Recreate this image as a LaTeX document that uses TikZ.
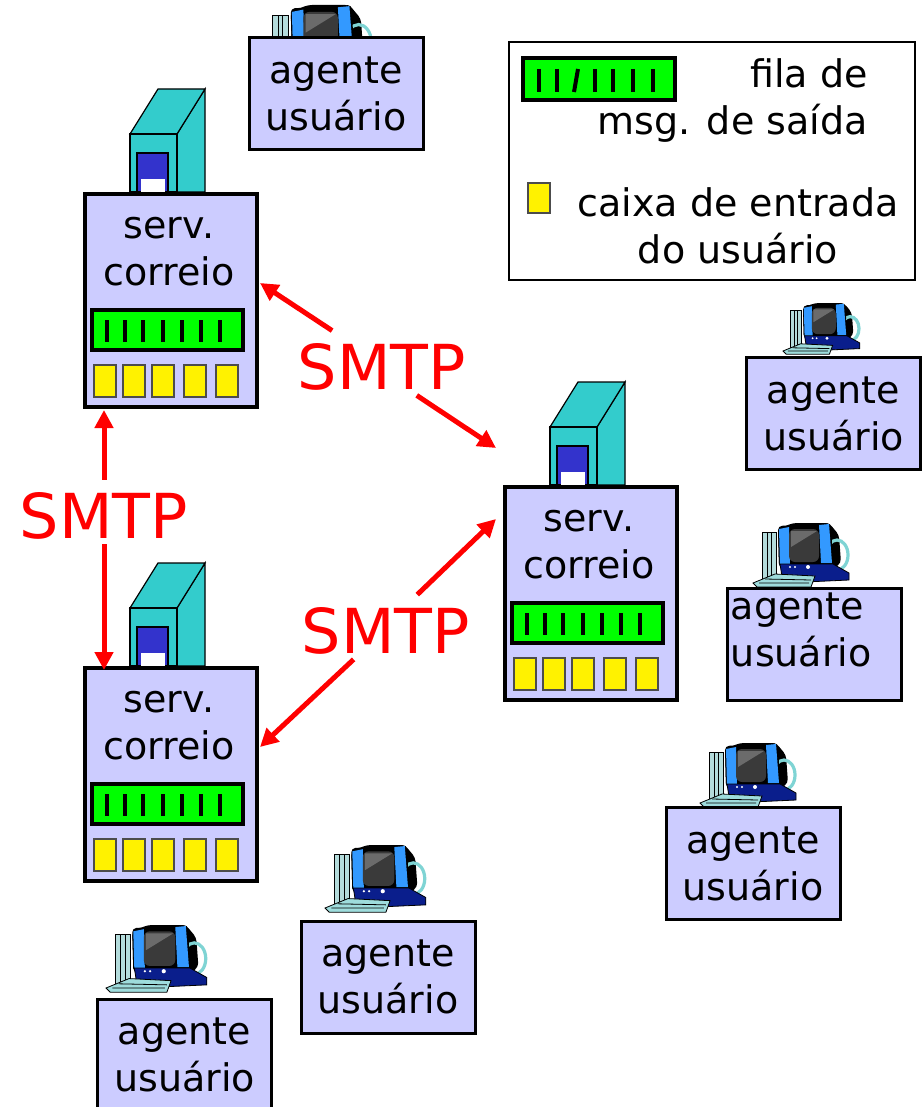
\documentclass[tikz,border=0pt]{standalone}
\usepackage{fontspec}
\setmainfont{DejaVu Sans}
\usetikzlibrary{arrows.meta}
\usepackage{xcolor}

\definecolor{lavender}{HTML}{CCCCFF}
\definecolor{towercyan}{HTML}{33CCCC}
\definecolor{windowblue}{HTML}{3333CC}
\definecolor{queuegreen}{HTML}{00FF00}
\definecolor{pcgrey}{HTML}{B4DCDC}
\definecolor{pcblue}{HTML}{3399FF}
\definecolor{pcnavy}{HTML}{0A1E8C}
\definecolor{pcscreen}{HTML}{3A3A3A}
\definecolor{pcring}{HTML}{7FD4D4}
\definecolor{pckey}{HTML}{9EDCDC}

\begin{document}
\begin{tikzpicture}[
    x=0.5pt, y=-0.5pt,
    every node/.style={font=\fontsize{19}{23.5}\selectfont},
    boxtext/.style={align=center, inner sep=0pt},
    useragent/.style={rectangle, draw, line width=1.5pt, fill=lavender, minimum width=87pt, minimum height=56pt, align=center, inner sep=0pt},
    serverbox/.style={rectangle, draw, line width=1.8pt, fill=lavender, minimum width=86pt, minimum height=106.5pt, inner sep=0pt},
    legendbox/.style={rectangle, draw, line width=0.8pt, fill=white, minimum width=203pt, minimum height=119pt},
    towerline/.style={draw=black, line width=0.6pt},
    queue/.style={draw=black, line width=1.8pt, fill=queuegreen},
    queuetick/.style={line width=2pt},
    mailbox/.style={draw=black!70, line width=0.8pt, fill=yellow},
    pcline/.style={draw=black, line width=0.4pt},
    smtp/.style={text=red, font=\fontsize{31}{37}\selectfont, inner sep=0pt, text height=26.6pt, text depth=0pt, minimum height=32pt},
    arrow/.style={-{Triangle[length=9pt, width=9pt]}, line width=2.5pt, red},
    mailserver/.pic={
        % tower behind the box
        \draw[towerline, fill=towercyan] (94,-58) -- (122,-103) -- (122,0) -- (94,0) -- cycle;
        \draw[towerline, fill=towercyan] (47,-58) -- (75,-103) -- (122,-103) -- (94,-58) -- cycle;
        \draw[towerline, fill=towercyan] (47,-58) rectangle (94,0);
        \draw[towerline, fill=windowblue] (54,-39) rectangle (85,0);
        \fill[white] (58,-13) rectangle (82,0);
        % box
        \node[serverbox, anchor=north west] (-box) at (0,0) {};
        \node[boxtext] (-label) at (86,60) {serv.\\correio};
        % outgoing queue
        \draw[queue] (9,118) rectangle (160,158);
        \foreach \x in {24,42,60,80,99,118,137}
            \draw[queuetick] (\x,128) -- (\x,150);
        % user mailboxes
        \foreach \x in {11,40,69,101,133}
            \draw[mailbox] (\x,173) rectangle ++(22,32);
    },
    computer/.pic={
        % tower
        \draw[pcline, fill=pcgrey] (9,9) rectangle (23,57);
        \draw[pcline] (14,9) -- (14,57) (18,9) -- (18,57);
        % monitor back and cable loop
        \fill[black, rounded corners=2pt] (40,0) -- (76,0) -- (86,12) -- (88,40) -- (80,46) -- (26,44) -- (25,6) -- cycle;
        \draw[pcring, line width=1.6pt] (84,32) ellipse (11 and 15);
        % monitor front
        \fill[black, rounded corners=2pt] (25,3) -- (78,0) -- (80,42) -- (26,45) -- cycle;
        \fill[pcblue] (26,6) -- (36,4) -- (37,42) -- (27,43) -- cycle;
        \fill[pcblue] (66,2) -- (76,1) -- (79,40) -- (68,40) -- cycle;
        \fill[pcscreen, rounded corners=3pt] (36,6) rectangle (66,39);
        \fill[white, opacity=0.25] (38,8) -- (64,8) -- (38,24) -- cycle;
        % base
        \draw[pcline, fill=pcnavy] (27,41) -- (80,41) -- (96,50) -- (96,57) -- (30,60) -- cycle;
        \fill[white] (37,44) circle (1.2) (42,44) circle (1.2) (55,44) circle (2);
        % keyboard
        \draw[pcline, fill=pckey] (0,60) -- (22,51) -- (62,53) -- (58,64) -- (4,64) -- cycle;
        \draw[pcline] (6,60) -- (56,60) (12,56) -- (58,57);
    }
]
    \useasboundingbox (0,0) rectangle (922,1107);
    \fill[white] (0,0) rectangle (922,1107);
    \clip (0,0) rectangle (922,1107);

    % Mail servers
    \pic (serv1) at (83,192) {mailserver};
    \pic (serv2) at (83,666) {mailserver};
    \pic (serv3) at (503,485) {mailserver};

    % Computers behind the user agents
    \pic[scale=1.15] at (262,5) {computer};
    \pic[scale=0.8] at (783,303) {computer};
    \pic at (753,523) {computer};
    \pic at (700,743) {computer};
    \pic[scale=1.05] at (325,845) {computer};
    \pic[scale=1.05] at (106,925) {computer};

    % User agents
    \node[useragent] (ua1) at (336,94) {agente\\usuário};
    \node[useragent] (ua2) at (833.5,413.5) {agente\\usuário};
    \node[useragent] (ua3) at (814,644) {};
    \node[boxtext, align=left, anchor=west] (ua3-text) at ([xshift=2.5pt, yshift=7pt]ua3.west) {agente\\usuário};
    \node[useragent] (ua4) at (753,863.5) {agente\\usuário};
    \node[useragent] (ua5) at (388,977) {agente\\usuário};
    \node[useragent] (ua6) at (184.5,1055) {agente\\usuário};

    % Legend
    \node[legendbox] (legend) at (712,161) {};
    \draw[queue] (523,58) rectangle (675,100);
    \foreach \x in {539,557,595,613,633,653}
        \draw[queuetick] (\x,69) -- (\x,92);
    \draw[queuetick] (578,69) -- (574,92);
    \draw[mailbox] (528,183) rectangle (550,213);
    \node[boxtext, align=right, anchor=east] (queue-text) at (868,101) {fila de\\msg. de saída};
    \node[boxtext] (mailbox-text) at (738,226) {caixa de entrada\\do usuário};

    % SMTP labels
    \node[smtp] (smtpA) at (382,363) {SMTP};
    \node[smtp] (smtpB) at (104,512) {SMTP};
    \node[smtp] (smtpC) at (386,627) {SMTP};

    % Arrow tips at the servers
    \coordinate (tipA1) at (260,283);
    \coordinate (tipA2) at (496,448);
    \coordinate (tipB1) at (104,410);
    \coordinate (tipB2) at (104,670);
    \coordinate (tipC1) at (496,519);
    \coordinate (tipC2) at (260,747);

    % SMTP arrows
    \draw[arrow] (smtpA.147) -- (tipA1);
    \draw[arrow] (smtpA.-43) -- (tipA2);
    \draw[arrow] (smtpB.north) -- (tipB1);
    \draw[arrow] (smtpB.south) -- (tipB2);
    \draw[arrow] (smtpC.46) -- (tipC1);
    \draw[arrow] (smtpC.-135) -- (tipC2);
\end{tikzpicture}
\end{document}
